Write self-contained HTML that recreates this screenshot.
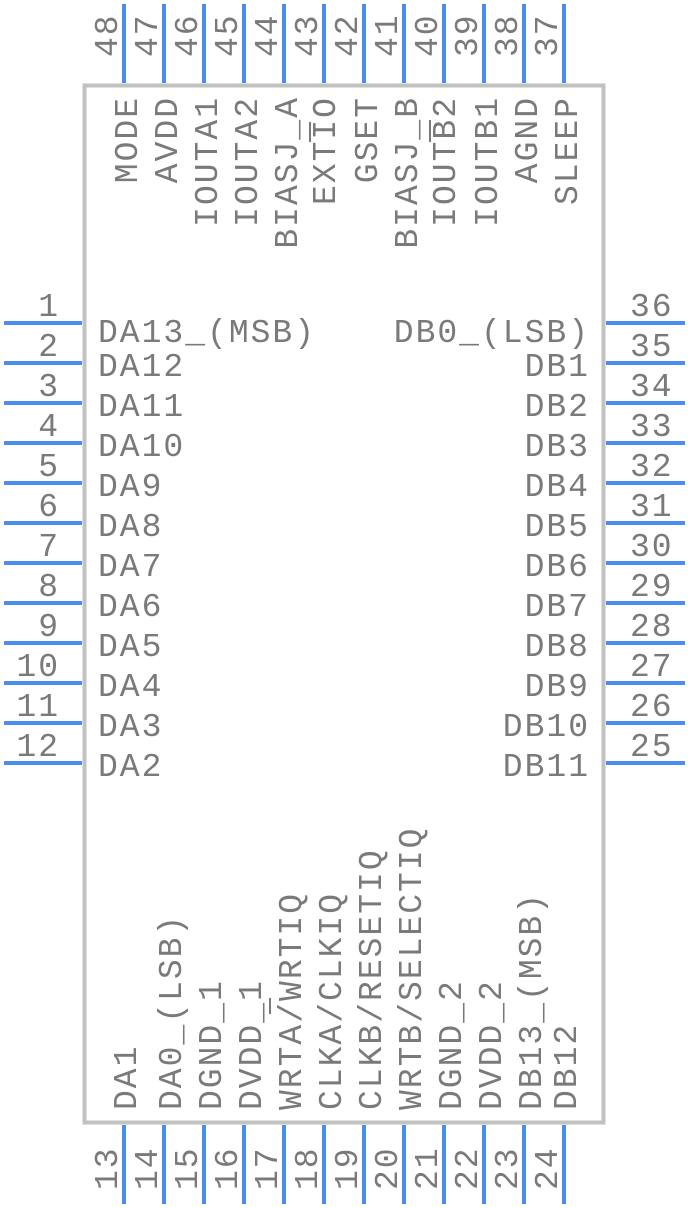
<!DOCTYPE html>
<html><head><meta charset="utf-8"><style>
html,body{margin:0;padding:0;background:#fff;}
svg{display:block;}
text{font-family:"Liberation Mono","DejaVu Sans Mono",monospace;font-size:33px;fill:#7a7a7a;letter-spacing:2px;}
</style></head><body>
<svg width="688" height="1208" viewBox="0 0 688 1208" xmlns="http://www.w3.org/2000/svg">
<rect x="84.5" y="85.5" width="519" height="1037" fill="none" stroke="#c2c2c2" stroke-width="4"/>
<g stroke="#4a8df0" stroke-width="4">
<line x1="4" y1="323" x2="82" y2="323"/><line x1="4" y1="363" x2="82" y2="363"/><line x1="4" y1="403" x2="82" y2="403"/><line x1="4" y1="443" x2="82" y2="443"/><line x1="4" y1="483" x2="82" y2="483"/><line x1="4" y1="523" x2="82" y2="523"/><line x1="4" y1="563" x2="82" y2="563"/><line x1="4" y1="603" x2="82" y2="603"/><line x1="4" y1="643" x2="82" y2="643"/><line x1="4" y1="683" x2="82" y2="683"/><line x1="4" y1="723" x2="82" y2="723"/><line x1="4" y1="763" x2="82" y2="763"/>
<line x1="606" y1="323" x2="685" y2="323"/><line x1="606" y1="363" x2="685" y2="363"/><line x1="606" y1="403" x2="685" y2="403"/><line x1="606" y1="443" x2="685" y2="443"/><line x1="606" y1="483" x2="685" y2="483"/><line x1="606" y1="523" x2="685" y2="523"/><line x1="606" y1="563" x2="685" y2="563"/><line x1="606" y1="603" x2="685" y2="603"/><line x1="606" y1="643" x2="685" y2="643"/><line x1="606" y1="683" x2="685" y2="683"/><line x1="606" y1="723" x2="685" y2="723"/><line x1="606" y1="763" x2="685" y2="763"/>
<line x1="124" y1="4" x2="124" y2="83"/><line x1="164" y1="4" x2="164" y2="83"/><line x1="204" y1="4" x2="204" y2="83"/><line x1="244" y1="4" x2="244" y2="83"/><line x1="284" y1="4" x2="284" y2="83"/><line x1="324" y1="4" x2="324" y2="83"/><line x1="364" y1="4" x2="364" y2="83"/><line x1="404" y1="4" x2="404" y2="83"/><line x1="444" y1="4" x2="444" y2="83"/><line x1="484" y1="4" x2="484" y2="83"/><line x1="524" y1="4" x2="524" y2="83"/><line x1="564" y1="4" x2="564" y2="83"/>
<line x1="124" y1="1125" x2="124" y2="1204"/><line x1="164" y1="1125" x2="164" y2="1204"/><line x1="204" y1="1125" x2="204" y2="1204"/><line x1="244" y1="1125" x2="244" y2="1204"/><line x1="284" y1="1125" x2="284" y2="1204"/><line x1="324" y1="1125" x2="324" y2="1204"/><line x1="364" y1="1125" x2="364" y2="1204"/><line x1="404" y1="1125" x2="404" y2="1204"/><line x1="444" y1="1125" x2="444" y2="1204"/><line x1="484" y1="1125" x2="484" y2="1204"/><line x1="524" y1="1125" x2="524" y2="1204"/><line x1="564" y1="1125" x2="564" y2="1204"/>
</g>
<g text-anchor="end">
<text x="60" y="316">1</text><text x="60" y="356">2</text><text x="60" y="396">3</text><text x="60" y="436">4</text><text x="60" y="476">5</text><text x="60" y="516">6</text><text x="60" y="556">7</text><text x="60" y="596">8</text><text x="60" y="636">9</text><text x="60" y="676">10</text><text x="60" y="716">11</text><text x="60" y="756">12</text>
</g>
<g>
<text x="630" y="316">36</text><text x="630" y="356">35</text><text x="630" y="396">34</text><text x="630" y="436">33</text><text x="630" y="476">32</text><text x="630" y="516">31</text><text x="630" y="556">30</text><text x="630" y="596">29</text><text x="630" y="636">28</text><text x="630" y="676">27</text><text x="630" y="716">26</text><text x="630" y="756">25</text>
</g>
<g>
<text x="98" y="342">DA13_(MSB)</text><text x="98" y="376">DA12</text><text x="98" y="416">DA11</text><text x="98" y="456">DA10</text><text x="98" y="496">DA9</text><text x="98" y="536">DA8</text><text x="98" y="576">DA7</text><text x="98" y="616">DA6</text><text x="98" y="656">DA5</text><text x="98" y="696">DA4</text><text x="98" y="736">DA3</text><text x="98" y="776">DA2</text>
</g>
<g text-anchor="end">
<text x="590" y="342">DB0_(LSB)</text><text x="590" y="376">DB1</text><text x="590" y="416">DB2</text><text x="590" y="456">DB3</text><text x="590" y="496">DB4</text><text x="590" y="536">DB5</text><text x="590" y="576">DB6</text><text x="590" y="616">DB7</text><text x="590" y="656">DB8</text><text x="590" y="696">DB9</text><text x="590" y="736">DB10</text><text x="590" y="776">DB11</text>
</g>
<g>
<text transform="translate(117,57) rotate(-90)">48</text><text transform="translate(157,57) rotate(-90)">47</text><text transform="translate(197,57) rotate(-90)">46</text><text transform="translate(237,57) rotate(-90)">45</text><text transform="translate(277,57) rotate(-90)">44</text><text transform="translate(317,57) rotate(-90)">43</text><text transform="translate(357,57) rotate(-90)">42</text><text transform="translate(397,57) rotate(-90)">41</text><text transform="translate(437,57) rotate(-90)">40</text><text transform="translate(477,57) rotate(-90)">39</text><text transform="translate(517,57) rotate(-90)">38</text><text transform="translate(557,57) rotate(-90)">37</text>
</g>
<g text-anchor="end">
<text transform="translate(137,96) rotate(-90)">MODE</text><text transform="translate(177,96) rotate(-90)">AVDD</text><text transform="translate(217,96) rotate(-90)">IOUTA1</text><text transform="translate(257,96) rotate(-90)">IOUTA2</text><text transform="translate(297,96) rotate(-90)">BIASJ_A</text><text transform="translate(335,96) rotate(-90)">EXTIO</text><text transform="translate(377,96) rotate(-90)">GSET</text><text transform="translate(417,96) rotate(-90)">BIASJ_B</text><text transform="translate(455,96) rotate(-90)">IOUTB2</text><text transform="translate(497,96) rotate(-90)">IOUTB1</text><text transform="translate(537,96) rotate(-90)">AGND</text><text transform="translate(577,96) rotate(-90)">SLEEP</text>
</g>
<g>
<text transform="translate(136,1110) rotate(-90)">DA1</text><text transform="translate(181,1110) rotate(-90)">DA0_(LSB)</text><text transform="translate(221,1110) rotate(-90)">DGND_1</text><text transform="translate(261,1110) rotate(-90)">DVDD_1</text><text transform="translate(301,1110) rotate(-90)">WRTA/WRTIQ</text><text transform="translate(341,1110) rotate(-90)">CLKA/CLKIQ</text><text transform="translate(381,1110) rotate(-90)">CLKB/RESETIQ</text><text transform="translate(421,1110) rotate(-90)">WRTB/SELECTIQ</text><text transform="translate(461,1110) rotate(-90)">DGND_2</text><text transform="translate(501,1110) rotate(-90)">DVDD_2</text><text transform="translate(541,1110) rotate(-90)">DB13_(MSB)</text><text transform="translate(576,1110) rotate(-90)">DB12</text>
</g>
<g>
<text transform="translate(117,1190) rotate(-90)">13</text><text transform="translate(157,1190) rotate(-90)">14</text><text transform="translate(197,1190) rotate(-90)">15</text><text transform="translate(237,1190) rotate(-90)">16</text><text transform="translate(277,1190) rotate(-90)">17</text><text transform="translate(317,1190) rotate(-90)">18</text><text transform="translate(357,1190) rotate(-90)">19</text><text transform="translate(397,1190) rotate(-90)">20</text><text transform="translate(437,1190) rotate(-90)">21</text><text transform="translate(477,1190) rotate(-90)">22</text><text transform="translate(517,1190) rotate(-90)">23</text><text transform="translate(557,1190) rotate(-90)">24</text>
</g>
<g stroke="#7a7a7a" stroke-width="2">
<line x1="310" y1="122" x2="310" y2="142"/>
<line x1="430" y1="120" x2="430" y2="142"/>
<line x1="270" y1="998" x2="270" y2="1014"/>
</g>
</svg>
</body></html>
